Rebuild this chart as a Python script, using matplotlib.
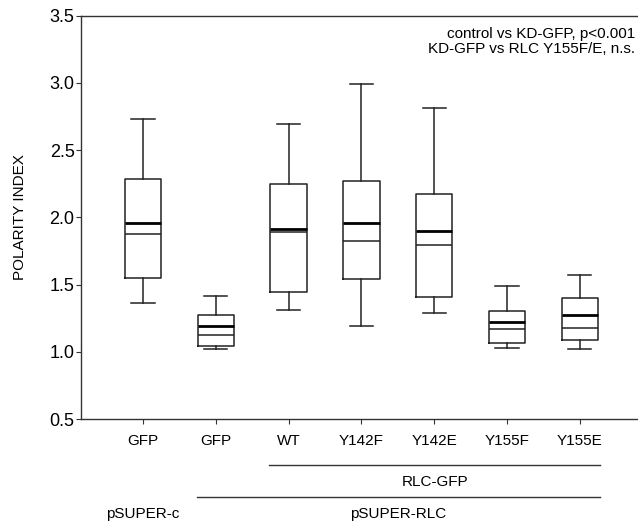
import matplotlib
matplotlib.use("Agg")
import matplotlib.pyplot as plt
import matplotlib.transforms as mtransforms

plt.rcParams['font.family'] = ['Liberation Sans', 'DejaVu Sans']

labels = ["GFP", "GFP", "WT", "Y142F", "Y142E", "Y155F", "Y155E"]
whislo = [1.364, 1.024, 1.309, 1.190, 1.292, 1.026, 1.017]
q1     = [1.547, 1.044, 1.443, 1.542, 1.408, 1.066, 1.091]
med    = [1.873, 1.128, 1.890, 1.825, 1.798, 1.173, 1.177]
mean   = [1.957, 1.192, 1.917, 1.957, 1.902, 1.225, 1.272]
q3     = [2.287, 1.277, 2.247, 2.267, 2.170, 1.307, 1.401]
whishi = [2.729, 1.416, 2.696, 2.990, 2.815, 1.488, 1.572]

yticks = [0.5, 1.0, 1.5, 2.0, 2.5, 3.0, 3.5]
annot = ["control vs KD-GFP, p<0.001", "KD-GFP vs RLC Y155F/E, n.s."]
group1 = ("RLC-GFP", 2, 6)      # indices of first and last category
group2 = ("pSUPER-RLC", 1, 6)
single = ("pSUPER-c", 0)

fig = plt.figure(figsize=(6.38, 5.24), dpi=100)
ax = fig.add_axes([81/638, 1-419/524, 1-81/638, (419-15.7)/524])

positions = list(range(1, len(labels) + 1))
stats = []
for i in range(len(labels)):
    stats.append(dict(whislo=whislo[i], q1=q1[i], med=med[i], mean=mean[i],
                      q3=q3[i], whishi=whishi[i], fliers=[]))

lc = '#222222'
ax.bxp(stats, positions=positions, widths=0.5, capwidths=0.32,
       showmeans=True, meanline=True, showfliers=False,
       boxprops=dict(color=lc, linewidth=1.1),
       whiskerprops=dict(color=lc, linewidth=1.1),
       capprops=dict(color=lc, linewidth=1.1),
       medianprops=dict(color=lc, linewidth=1.1),
       meanprops=dict(color='black', linewidth=2.0, linestyle='-'))

ax.set_xlim(0.148, 7.80)
ax.set_ylim(0.5, 3.5)
ax.set_yticks(yticks)
ax.set_yticklabels([f"{v:.1f}" for v in yticks])
ax.set_xticks(positions)
ax.set_xticklabels(labels)
ax.tick_params(axis='both', direction='out', length=3.6, width=0.8, color='#333333',
               labelcolor='black')
ax.tick_params(axis='x', pad=7, labelsize=11)
ax.tick_params(axis='y', pad=1.0, labelsize=13)
for s in ['left', 'bottom', 'top']:
    ax.spines[s].set_color('#333333')
    ax.spines[s].set_linewidth(1.0)
ax.spines['right'].set_visible(False)

ax.set_ylabel("POLARITY INDEX", fontsize=11)
ax.yaxis.set_label_coords(-0.097, 0.5)

# annotation
tr_annot = mtransforms.blended_transform_factory(ax.transAxes, ax.transData)
ax.text(0.9946, 3.364, annot[0], ha='right', va='center', fontsize=11, transform=tr_annot)
ax.text(0.9946, 3.250, annot[1], ha='right', va='center', fontsize=11, transform=tr_annot)

# group labels
trans = mtransforms.blended_transform_factory(ax.transData, ax.transAxes)
def group(name, i0, i1, yline, ytext):
    x0 = positions[i0] - 0.265
    x1 = positions[i1] + 0.28
    ax.plot([x0, x1], [yline, yline], color='#333333', lw=1.0,
            transform=trans, clip_on=False)
    ax.text((x0 + x1) / 2, ytext, name, ha='center', va='center', fontsize=11,
            transform=trans)

group(group1[0], group1[1], group1[2], -0.114, -0.155)
group(group2[0], group2[1], group2[2], -0.193, -0.235)
ax.text(positions[single[1]], -0.235, single[0], ha='center', va='center',
        fontsize=11, transform=trans)

fig.savefig("out.png", dpi=100)
